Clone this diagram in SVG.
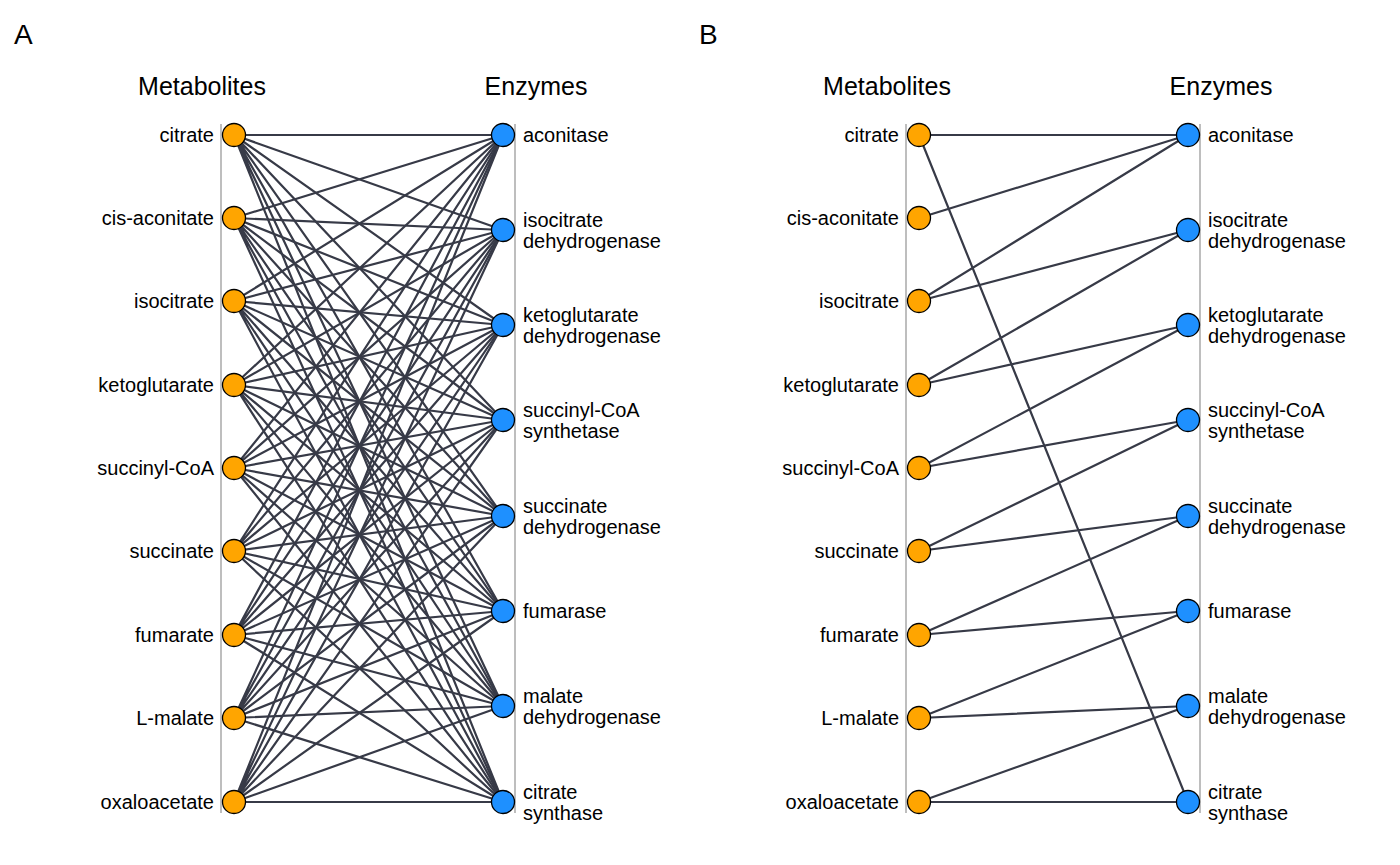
<svg xmlns="http://www.w3.org/2000/svg" width="1400" height="865" viewBox="0 0 1400 865">
<style>
text{font-family:"Liberation Sans",Arial,sans-serif;font-size:20px;fill:#000}
.t{font-size:25px}
.p{font-size:28px}
.m{text-anchor:end}
.ax{stroke:#bebebe;stroke-width:2}
.e{stroke:#373a47;stroke-width:2.2;fill:none}
.mn{fill:#ffa500;stroke:#000;stroke-width:1.3}
.en{fill:#1e90ff;stroke:#000;stroke-width:1.3}
</style>
<rect width="1400" height="865" fill="#fff"/>
<text class="p" x="14" y="44">A</text>
<text class="p" x="699" y="44">B</text>
<text class="t" x="202" y="95" text-anchor="middle">Metabolites</text>
<text class="t" x="536" y="95" text-anchor="middle">Enzymes</text>
<text class="t" x="887" y="95" text-anchor="middle">Metabolites</text>
<text class="t" x="1221" y="95" text-anchor="middle">Enzymes</text>
<g id="axes">
<line class="ax" x1="221" y1="124" x2="221" y2="813"/><line class="ax" x1="515" y1="124" x2="515" y2="813"/>
<line class="ax" x1="906" y1="124" x2="906" y2="813"/><line class="ax" x1="1200" y1="124" x2="1200" y2="813"/>
</g>
<g id="connectors">
<path class="e" d="M234 135L503 135M234 135L503 230M234 135L503 325M234 135L503 420M234 135L503 516M234 135L503 611M234 135L503 706M234 135L503 802"/>
<path class="e" d="M234 218L503 135M234 218L503 230M234 218L503 325M234 218L503 420M234 218L503 516M234 218L503 611M234 218L503 706M234 218L503 802"/>
<path class="e" d="M234 301L503 135M234 301L503 230M234 301L503 325M234 301L503 420M234 301L503 516M234 301L503 611M234 301L503 706M234 301L503 802"/>
<path class="e" d="M234 385L503 135M234 385L503 230M234 385L503 325M234 385L503 420M234 385L503 516M234 385L503 611M234 385L503 706M234 385L503 802"/>
<path class="e" d="M234 468L503 135M234 468L503 230M234 468L503 325M234 468L503 420M234 468L503 516M234 468L503 611M234 468L503 706M234 468L503 802"/>
<path class="e" d="M234 551L503 135M234 551L503 230M234 551L503 325M234 551L503 420M234 551L503 516M234 551L503 611M234 551L503 706M234 551L503 802"/>
<path class="e" d="M234 635L503 135M234 635L503 230M234 635L503 325M234 635L503 420M234 635L503 516M234 635L503 611M234 635L503 706M234 635L503 802"/>
<path class="e" d="M234 718L503 135M234 718L503 230M234 718L503 325M234 718L503 420M234 718L503 516M234 718L503 611M234 718L503 706M234 718L503 802"/>
<path class="e" d="M234 802L503 135M234 802L503 230M234 802L503 325M234 802L503 420M234 802L503 516M234 802L503 611M234 802L503 706M234 802L503 802"/>
<path class="e" d="M919 135L1188 135M919 135L1188 802M919 218L1188 135M919 301L1188 135M919 301L1188 230M919 385L1188 230M919 385L1188 325M919 468L1188 325M919 468L1188 420M919 551L1188 420M919 551L1188 516M919 635L1188 516M919 635L1188 611M919 718L1188 611M919 718L1188 706M919 802L1188 706M919 802L1188 802"/>
</g>
<g id="A-metabolites">
<g id="a-m1"><circle class="mn" cx="234" cy="135" r="11.5"/><text class="m" x="214" y="142">citrate</text></g>
<g id="a-m2"><circle class="mn" cx="234" cy="218" r="11.5"/><text class="m" x="214" y="225">cis-aconitate</text></g>
<g id="a-m3"><circle class="mn" cx="234" cy="301" r="11.5"/><text class="m" x="214" y="308">isocitrate</text></g>
<g id="a-m4"><circle class="mn" cx="234" cy="385" r="11.5"/><text class="m" x="214" y="392">ketoglutarate</text></g>
<g id="a-m5"><circle class="mn" cx="234" cy="468" r="11.5"/><text class="m" x="214" y="475">succinyl-CoA</text></g>
<g id="a-m6"><circle class="mn" cx="234" cy="551" r="11.5"/><text class="m" x="214" y="558">succinate</text></g>
<g id="a-m7"><circle class="mn" cx="234" cy="635" r="11.5"/><text class="m" x="214" y="642">fumarate</text></g>
<g id="a-m8"><circle class="mn" cx="234" cy="718" r="11.5"/><text class="m" x="214" y="725">L-malate</text></g>
<g id="a-m9"><circle class="mn" cx="234" cy="802" r="11.5"/><text class="m" x="214" y="809">oxaloacetate</text></g>
</g>
<g id="A-enzymes">
<g id="a-e1"><circle class="en" cx="503" cy="135" r="11.5"/><text x="523" y="142">aconitase</text></g>
<g id="a-e2"><circle class="en" cx="503" cy="230" r="11.5"/><text x="523" y="227">isocitrate</text><text x="523" y="248">dehydrogenase</text></g>
<g id="a-e3"><circle class="en" cx="503" cy="325" r="11.5"/><text x="523" y="322">ketoglutarate</text><text x="523" y="343">dehydrogenase</text></g>
<g id="a-e4"><circle class="en" cx="503" cy="420" r="11.5"/><text x="523" y="417">succinyl-CoA</text><text x="523" y="438">synthetase</text></g>
<g id="a-e5"><circle class="en" cx="503" cy="516" r="11.5"/><text x="523" y="513">succinate</text><text x="523" y="534">dehydrogenase</text></g>
<g id="a-e6"><circle class="en" cx="503" cy="611" r="11.5"/><text x="523" y="618">fumarase</text></g>
<g id="a-e7"><circle class="en" cx="503" cy="706" r="11.5"/><text x="523" y="703">malate</text><text x="523" y="724">dehydrogenase</text></g>
<g id="a-e8"><circle class="en" cx="503" cy="802" r="11.5"/><text x="523" y="799">citrate</text><text x="523" y="820">synthase</text></g>
</g>
<g id="B-metabolites">
<g id="b-m1"><circle class="mn" cx="919" cy="135" r="11.5"/><text class="m" x="899" y="142">citrate</text></g>
<g id="b-m2"><circle class="mn" cx="919" cy="218" r="11.5"/><text class="m" x="899" y="225">cis-aconitate</text></g>
<g id="b-m3"><circle class="mn" cx="919" cy="301" r="11.5"/><text class="m" x="899" y="308">isocitrate</text></g>
<g id="b-m4"><circle class="mn" cx="919" cy="385" r="11.5"/><text class="m" x="899" y="392">ketoglutarate</text></g>
<g id="b-m5"><circle class="mn" cx="919" cy="468" r="11.5"/><text class="m" x="899" y="475">succinyl-CoA</text></g>
<g id="b-m6"><circle class="mn" cx="919" cy="551" r="11.5"/><text class="m" x="899" y="558">succinate</text></g>
<g id="b-m7"><circle class="mn" cx="919" cy="635" r="11.5"/><text class="m" x="899" y="642">fumarate</text></g>
<g id="b-m8"><circle class="mn" cx="919" cy="718" r="11.5"/><text class="m" x="899" y="725">L-malate</text></g>
<g id="b-m9"><circle class="mn" cx="919" cy="802" r="11.5"/><text class="m" x="899" y="809">oxaloacetate</text></g>
</g>
<g id="B-enzymes">
<g id="b-e1"><circle class="en" cx="1188" cy="135" r="11.5"/><text x="1208" y="142">aconitase</text></g>
<g id="b-e2"><circle class="en" cx="1188" cy="230" r="11.5"/><text x="1208" y="227">isocitrate</text><text x="1208" y="248">dehydrogenase</text></g>
<g id="b-e3"><circle class="en" cx="1188" cy="325" r="11.5"/><text x="1208" y="322">ketoglutarate</text><text x="1208" y="343">dehydrogenase</text></g>
<g id="b-e4"><circle class="en" cx="1188" cy="420" r="11.5"/><text x="1208" y="417">succinyl-CoA</text><text x="1208" y="438">synthetase</text></g>
<g id="b-e5"><circle class="en" cx="1188" cy="516" r="11.5"/><text x="1208" y="513">succinate</text><text x="1208" y="534">dehydrogenase</text></g>
<g id="b-e6"><circle class="en" cx="1188" cy="611" r="11.5"/><text x="1208" y="618">fumarase</text></g>
<g id="b-e7"><circle class="en" cx="1188" cy="706" r="11.5"/><text x="1208" y="703">malate</text><text x="1208" y="724">dehydrogenase</text></g>
<g id="b-e8"><circle class="en" cx="1188" cy="802" r="11.5"/><text x="1208" y="799">citrate</text><text x="1208" y="820">synthase</text></g>
</g>
</svg>
